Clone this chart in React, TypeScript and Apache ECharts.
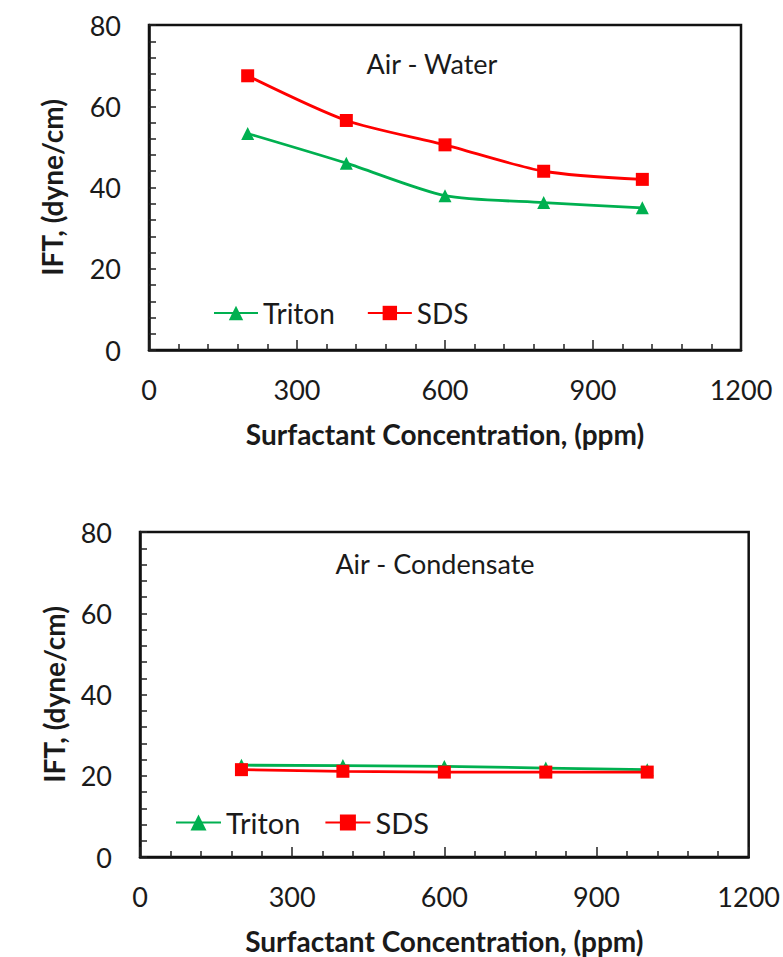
import React, { useEffect, useRef } from "react";
import * as echarts from "echarts";

const concentrations = [200, 400, 600, 800, 1000];
const waterTriton = [53.3, 46, 38, 36.3, 35];
const waterSDS = [67.5, 56.5, 50.5, 44, 42];
const condTriton = [22.6, 22.5, 22.3, 21.9, 21.5];
const condSDS = [21.5, 21.1, 20.9, 20.9, 20.9];
const xTitle = "Surfactant Concentration, (ppm)";
const yTitle = "IFT, (dyne/cm)";
const titles = ["Air - Water", "Air - Condensate"];

const GREEN = "#00B050";
const RED = "#FF0000";
const FONT = "Lato";
const TXT = "#1a1a1a";

const pairs = (ys: number[]) => concentrations.map((x, i) => [x, ys[i]]);

export default function App() {
  const ref = useRef<HTMLDivElement>(null);
  useEffect(() => {
    const chart = echarts.init(ref.current!, undefined, { renderer: "svg" });
    const grids = [
      { left: 149, top: 25, width: 592, height: 325 },
      { left: 140, top: 532, width: 612, height: 325 },
    ];
    const xAxis = grids.map((_, i) => ({
      type: "value",
      gridIndex: i,
      min: 0,
      max: 1200,
      interval: 300,
      axisLine: { lineStyle: { color: "#111", width: 2.5 } },
      axisTick: { inside: true, length: 10, lineStyle: { color: "#222", width: 1.5 } },
      minorTick: { show: true, splitNumber: 5, length: 6, lineStyle: { color: "#222", width: 1.5 } },
      splitLine: { show: false },
      axisLabel: {
        margin: 26,
        fontSize: 27,
        fontFamily: FONT,
        color: TXT,
        formatter: (v: number) => String(v),
      },
      name: xTitle,
      nameLocation: "middle",
      nameGap: 70,
      nameTextStyle: { fontSize: 28, fontWeight: "bold", fontFamily: FONT, color: TXT },
    }));
    const yAxis = grids.map((_, i) => ({
      type: "value",
      gridIndex: i,
      min: 0,
      max: 80,
      interval: 20,
      axisLine: { show: true, lineStyle: { color: "#111", width: 2.5 } },
      axisTick: { show: true, inside: true, length: 7, lineStyle: { color: "#222", width: 1.5 } },
      minorTick: { show: true, splitNumber: 5, length: 7, lineStyle: { color: "#222", width: 1.5 } },
      splitLine: { show: false },
      axisLabel: {
        margin: 28,
        fontSize: 27,
        fontFamily: FONT,
        color: TXT,
        formatter: (v: number) => String(v),
      },
      name: yTitle,
      nameLocation: "middle",
      nameGap: i === 0 ? 83 : 72,
      nameTextStyle: { fontSize: 28, fontWeight: "bold", fontFamily: FONT, color: TXT },
    }));
    const mk = (name: string, data: number[], idx: number, color: string, symbol: string) => ({
      type: "line",
      name,
      xAxisIndex: idx,
      yAxisIndex: idx,
      data: pairs(data),
      smooth: idx === 0 ? 0.25 : false,
      symbol,
      symbolSize: 13,
      itemStyle: { color },
      lineStyle: { color, width: 2.8 },
    });
    chart.setOption({
      animation: false,
      backgroundColor: "#fff",
      grid: grids.map((g) => ({ ...g, show: true, borderColor: "#111", borderWidth: 2.5, containLabel: false })),
      xAxis,
      yAxis,
      legend: [
        {
          data: ["Triton", "SDS"],
          left: 213,
          top: 299,
          padding: 0,
          itemWidth: 44,
          itemHeight: 18,
          itemGap: 32,
          textStyle: { fontSize: 28, fontFamily: FONT, color: TXT },
        },
        {
          data: ["Triton", "SDS"],
          left: 175,
          top: 808,
          padding: 0,
          itemWidth: 45,
          itemHeight: 20,
          itemGap: 24,
          textStyle: { fontSize: 29, fontFamily: FONT, color: TXT },
        },
      ],
      graphic: [
        {
          type: "text",
          x: 432,
          y: 63,
          style: {
            text: titles[0],
            fill: TXT,
            font: `27px ${FONT}`,
            align: "center",
            verticalAlign: "middle",
            textAlign: "center",
            textVerticalAlign: "middle",
          },
        },
        {
          type: "text",
          x: 435,
          y: 563,
          style: {
            text: titles[1],
            fill: TXT,
            font: `27px ${FONT}`,
            align: "center",
            verticalAlign: "middle",
            textAlign: "center",
            textVerticalAlign: "middle",
          },
        },
      ],
      series: [
        mk("Triton", waterTriton, 0, GREEN, "triangle"),
        mk("SDS", waterSDS, 0, RED, "rect"),
        mk("Triton", condTriton, 1, GREEN, "triangle"),
        mk("SDS", condSDS, 1, RED, "rect"),
      ],
    });
    return () => chart.dispose();
  }, []);
  return (
    <div
      ref={ref}
      style={{ position: "fixed", left: 0, top: 0, width: 783, height: 957, background: "#fff" }}
    />
  );
}
